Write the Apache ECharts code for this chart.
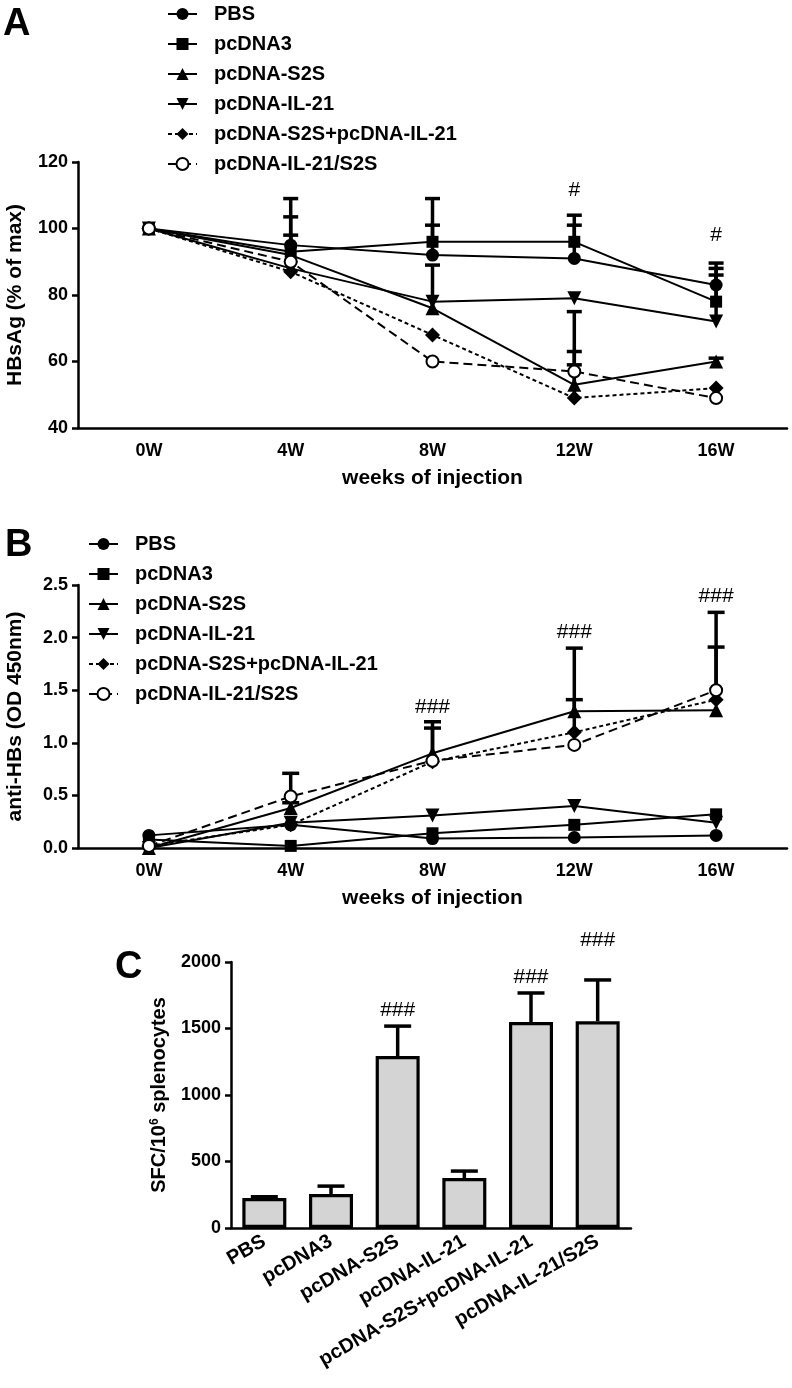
<!DOCTYPE html>
<html><head><meta charset="utf-8">
<script src="https://cdn.jsdelivr.net/npm/echarts@6/dist/echarts.min.js"></script>
<style>html,body{margin:0;padding:0;background:#fff}#c{width:792px;height:1388px}</style>
</head><body><div id="c"></div>
<script>
// ---------- data ----------
const weeks = ['0W', '4W', '8W', '12W', '16W'];
const groups = ['PBS', 'pcDNA3', 'pcDNA-S2S', 'pcDNA-IL-21', 'pcDNA-S2S+pcDNA-IL-21', 'pcDNA-IL-21/S2S'];

// Panel A: HBsAg (% of max)
const hbsagPBS    = [100, 95, 92, 91, 83];
const hbsagPcDNA3 = [100, 93, 96, 96, 78];
const hbsagS2S    = [100, 92, 76, 53, 60];
const hbsagIL21   = [100, 88, 78, 79, 72];
const hbsagCombo  = [100, 87, 68, 49, 52];
const hbsagFusion = [100, 90, 60, 57, 49];
// upper ends of error bars (null = no bar)
const hbsagPBSUp    = [null, 109, 101, 101, 89.6];
const hbsagPcDNA3Up = [null, 103.5, 109, 104, 88];
const hbsagS2SUp    = [null, 98, 89, 75, 61];
const hbsagIL21Up   = [null, null, null, null, 86];
const hbsagComboUp  = [null, null, null, 59, null];
const hbsagFusionUp = [null, null, null, 63, null];
const hbsagSigText  = ['', '', '', '#', '#'];
const hbsagSigAt    = [null, null, null, 111.5, 98];

// Panel B: anti-HBs (OD 450nm)
const antiPBS    = [0.12, 0.22, 0.09, 0.10, 0.12];
const antiPcDNA3 = [0.08, 0.02, 0.14, 0.22, 0.32];
const antiS2S    = [0.00, 0.38, 0.90, 1.30, 1.31];
const antiIL21   = [0.00, 0.24, 0.31, 0.40, 0.24];
const antiCombo  = [0.02, 0.22, 0.82, 1.10, 1.41];
const antiFusion = [0.02, 0.49, 0.83, 0.98, 1.50];
const antiPBSUp    = [null, null, null, null, null];
const antiPcDNA3Up = [null, null, null, null, null];
const antiS2SUp    = [null, 0.43, 1.20, 1.90, null];
const antiIL21Up   = [null, null, null, null, null];
const antiComboUp  = [null, null, 1.14, 1.41, 1.91];
const antiFusionUp = [null, 0.71, null, null, 2.24];
const antiSigText  = ['', '', '###', '###', '###'];
const antiSigAt    = [null, null, 1.34, 2.05, 2.39];

// Panel C: SFC / 10^6 splenocytes
const sfcValues  = [225, 255, 1293, 376, 1549, 1555];
const sfcUpper   = [235, 315, 1518, 428, 1767, 1865];
const sfcSigText = ['', '', '###', '', '###', '###'];
const sfcSigAt   = [null, null, 1640, null, 1888, 2165];

// ---------- styles ----------
const FONT = 'Liberation Sans';
const marks = [
  { symbol: 'circle', size: 13, dash: 'solid' },
  { symbol: 'rect', size: 12, dash: 'solid' },
  { symbol: 'triangle', size: 14, dash: 'solid' },
  { symbol: 'path://M0,0L10,0L5,9Z', size: 14, dash: 'solid' },
  { symbol: 'diamond', size: 15, dash: [4, 3] },
  { symbol: 'emptyCircle', size: 12, dash: [9, 5] }
];

function lineSeries(name, data, idx, st) {
  return {
    type: 'line', name: name, data: data, xAxisIndex: idx, yAxisIndex: idx,
    symbol: st.symbol, symbolSize: st.size, showSymbol: true, z: 3,
    lineStyle: { color: '#000', width: 2, type: st.dash },
    itemStyle: { color: '#000', borderColor: '#000', borderWidth: st.symbol === 'emptyCircle' ? 2.8 : 0 },
    emphasis: { disabled: true }, animation: false
  };
}

function errSeries(idx, vals, ups, capW, lw) {
  const d = [];
  vals.forEach((v, i) => { if (ups[i] != null) d.push([i, v, ups[i]]); });
  return {
    type: 'custom', xAxisIndex: idx, yAxisIndex: idx, silent: true, z: 2,
    encode: { x: 0, y: [1, 2] }, data: d, animation: false,
    renderItem: (params, api) => {
      const p0 = api.coord([api.value(0), api.value(1)]);
      const p1 = api.coord([api.value(0), api.value(2)]);
      return { type: 'group', children: [
        { type: 'line', shape: { x1: p0[0], y1: p0[1], x2: p1[0], y2: p1[1] }, style: { stroke: '#000', lineWidth: lw } },
        { type: 'line', shape: { x1: p1[0] - capW / 2, y1: p1[1], x2: p1[0] + capW / 2, y2: p1[1] }, style: { stroke: '#000', lineWidth: lw } }
      ]};
    }
  };
}

function sigSeries(idx, texts, at) {
  const d = [];
  texts.forEach((t, i) => { if (t) d.push([i, at[i], t]); });
  return {
    type: 'custom', xAxisIndex: idx, yAxisIndex: idx, silent: true, z: 4,
    encode: { x: 0, y: 1 }, data: d, animation: false, clip: false,
    renderItem: (params, api) => {
      const p = api.coord([api.value(0), api.value(1)]);
      return { type: 'text', x: p[0], y: p[1], style: {
        text: d[params.dataIndex][2], fill: '#000', font: '21px ' + FONT,
        align: 'center', verticalAlign: 'middle' } };
    }
  };
}

const axisLineStyle = { color: '#000', width: 2.5 };
const tickLabel = { color: '#000', fontSize: 18, fontWeight: 'bold', fontFamily: FONT };
const titleText = { color: '#000', fontSize: 21, fontWeight: 'bold', fontFamily: FONT };

function legendAt(left, top) {
  return {
    orient: 'vertical', left: left, top: top, itemWidth: 29, itemHeight: 15, itemGap: 10,
    data: groups, selectedMode: false, padding: 0,
    textStyle: { color: '#000', fontSize: 20, fontWeight: 'bold', fontFamily: FONT, lineHeight: 18, padding: [0, 0, 0, 12] }
  };
}

function catX(idx, cats, name) {
  return {
    gridIndex: idx, type: 'category', data: cats, boundaryGap: true,
    axisLine: { lineStyle: axisLineStyle },
    axisTick: { alignWithLabel: true, length: 6, lineStyle: { color: '#000', width: 2.5 } },
    axisLabel: Object.assign({ margin: 14 }, tickLabel),
    name: name, nameLocation: 'middle', nameGap: 40, nameTextStyle: titleText
  };
}

function valY(idx, min, max, interval, name, gap, fmt) {
  return {
    gridIndex: idx, type: 'value', min: min, max: max, interval: interval,
    axisLine: { show: true, lineStyle: axisLineStyle },
    axisTick: { show: true, length: 6, lineStyle: { color: '#000', width: 2.5 } },
    splitLine: { show: false },
    axisLabel: Object.assign({ margin: 10, formatter: fmt }, tickLabel),
    name: name, nameLocation: 'middle', nameGap: gap, nameTextStyle: titleText
  };
}

const aSets = [hbsagPBS, hbsagPcDNA3, hbsagS2S, hbsagIL21, hbsagCombo, hbsagFusion];
const aUps  = [hbsagPBSUp, hbsagPcDNA3Up, hbsagS2SUp, hbsagIL21Up, hbsagComboUp, hbsagFusionUp];
const bSets = [antiPBS, antiPcDNA3, antiS2S, antiIL21, antiCombo, antiFusion];
const bUps  = [antiPBSUp, antiPcDNA3Up, antiS2SUp, antiIL21Up, antiComboUp, antiFusionUp];

const series = [];
aSets.forEach((d, i) => series.push(errSeries(0, d, aUps[i], 15, 3.5)));
bSets.forEach((d, i) => series.push(errSeries(1, d, bUps[i], 17, 3.5)));
aSets.forEach((d, i) => series.push(lineSeries(groups[i], d, 0, marks[i])));
bSets.forEach((d, i) => series.push(lineSeries(groups[i], d, 1, marks[i])));
series.push(sigSeries(0, hbsagSigText, hbsagSigAt));
series.push(sigSeries(1, antiSigText, antiSigAt));
series.push({
  type: 'bar', xAxisIndex: 2, yAxisIndex: 2, data: sfcValues, barWidth: 44, z: 2,
  itemStyle: { color: '#d4d4d4', borderColor: '#000', borderWidth: 3.2 },
  emphasis: { disabled: true }, animation: false
});
series.push(errSeries(2, sfcValues, sfcUpper, 27, 3.5));
series.push(sigSeries(2, sfcSigText, sfcSigAt));

const option = {
  backgroundColor: '#fff',
  animation: false,
  textStyle: { fontFamily: FONT, color: '#000' },
  title: [
    { text: 'A', left: 3, top: 6, padding: 0, textStyle: { fontSize: 38, fontWeight: 'bold', color: '#000', fontFamily: FONT } },
    { text: 'B', left: 5, top: 527, padding: 0, textStyle: { fontSize: 38, fontWeight: 'bold', color: '#000', fontFamily: FONT } },
    { text: 'C', left: 115, top: 949, padding: 0, textStyle: { fontSize: 38, fontWeight: 'bold', color: '#000', fontFamily: FONT } }
  ],
  legend: [legendAt(167, 4), legendAt(88, 534)],
  grid: [
    { left: 78, top: 162, width: 709, height: 266, containLabel: false, outerBoundsMode: 'none' },
    { left: 78, top: 585, width: 709, height: 263, containLabel: false, outerBoundsMode: 'none' },
    { left: 231, top: 962, width: 400, height: 266, containLabel: false, outerBoundsMode: 'none' }
  ],
  xAxis: [
    catX(0, weeks, 'weeks of injection'),
    catX(1, weeks, 'weeks of injection'),
    Object.assign(catX(2, groups, ''), {
      axisLabel: Object.assign({ margin: 12, rotate: 30, interval: 0 }, tickLabel, { fontSize: 20 })
    })
  ],
  yAxis: [
    valY(0, 40, 120, 20, 'HBsAg (% of max)', 52),
    valY(1, 0, 2.5, 0.5, 'anti-HBs (OD 450nm)', 52, v => v.toFixed(1)),
    Object.assign(valY(2, 0, 2000, 500, 'SFC/10{s|6} splenocytes', 62, v => String(v)), {
      nameTextStyle: Object.assign({}, titleText, { fontSize: 20,
        rich: { s: { fontSize: 12, fontWeight: 'bold', fontFamily: FONT, color: '#000', verticalAlign: 'top', lineHeight: 12 } } })
    })
  ],
  series: series
};

const chart = echarts.init(document.getElementById('c'), null, { renderer: 'canvas' });
chart.setOption(option);
</script>
</body></html>
